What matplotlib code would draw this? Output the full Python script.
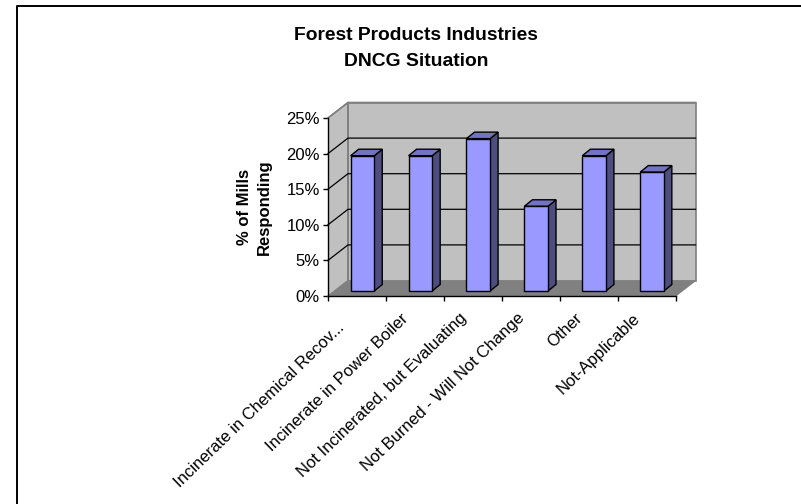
import matplotlib
matplotlib.use('Agg')
import matplotlib.pyplot as plt
from matplotlib.patches import Polygon

# values
categories = ['Incinerate in Chemical Recov...', 'Incinerate in Power Boiler',
              'Not Incinerated, but Evaluating', 'Not Burned - Will Not Change',
              'Other', 'Not-Applicable']
percents = [19.0, 19.0, 21.4, 11.9, 19.0, 16.7]
y_ticks = [0, 5, 10, 15, 20, 25]

plt.rcParams['font.family'] = ['Liberation Sans', 'DejaVu Sans']

W, H = 801, 504
fig = plt.figure(figsize=(W / 100, H / 100), dpi=100)
fig.patch.set_facecolor('white')

# axes = front plane of the 3d box
left, right, bottom, top = 328, 675.5, 296, 118
ax = fig.add_axes([left / W, 1 - bottom / H, (right - left) / W, (bottom - top) / H])
ax.set_xlim(0, len(categories))
ax.set_ylim(0, 25)
ax.patch.set_visible(False)

px_x = len(categories) / (right - left)
px_y = 25 / (bottom - top)
depth_x = 20 * px_x
depth_y = 15.5 * px_y


def poly(pts, **kw):
    ax.add_patch(Polygon(pts, closed=True, clip_on=False, **kw))


n = len(categories)
wall = '#C0C0C0'
# side wall, back wall, floor
poly([(0, 0), (depth_x, depth_y), (depth_x, 25 + depth_y), (0, 25)], fc=wall, ec='none', zorder=1)
poly([(depth_x, depth_y), (n + depth_x, depth_y), (n + depth_x, 25 + depth_y), (depth_x, 25 + depth_y)],
     fc=wall, ec='#808080', lw=1.2, zorder=1)
poly([(0, 0), (n, 0), (n + depth_x, depth_y), (depth_x, depth_y)], fc='#808080', ec='none', zorder=1)
ax.plot([depth_x, depth_x], [depth_y, 25 + depth_y], color='#808080', lw=1.2, zorder=1.5, clip_on=False)
ax.plot([0, depth_x, n + depth_x], [25, 25 + depth_y, 25 + depth_y], color='#808080', lw=1.2, zorder=1.5, clip_on=False)

# grid on the walls
for t in y_ticks[1:-1]:
    ax.plot([0, depth_x, n + depth_x], [t, t + depth_y, t + depth_y], color='black', lw=0.9, zorder=2,
            clip_on=False, solid_joinstyle='miter')
ax.plot([n, n + depth_x], [0, depth_y], color='#808080', lw=1.0, zorder=2, clip_on=False)
ax.plot([0, depth_x], [25, 25 + depth_y], color='#808080', lw=1.0, zorder=2, clip_on=False)
ax.plot([0, depth_x], [0, depth_y], color='#808080', lw=1.0, zorder=2, clip_on=False)

# bars
bar_w = 23.6 * px_x
off_x = 5.5 * px_x
off_y = 5 * px_y
bar_dx = 8 * px_x
bar_dy = 6.5 * px_y
for i, v in enumerate(percents):
    x0 = i + 0.5 + off_x - bar_w / 2
    x1 = x0 + bar_w
    y0 = off_y
    y1 = off_y + v
    poly([(x1, y0), (x1 + bar_dx, y0 + bar_dy), (x1 + bar_dx, y1 + bar_dy), (x1, y1)],
         fc='#4D4D80', ec='black', lw=1.0, zorder=3, joinstyle='miter')
    poly([(x0, y1), (x1, y1), (x1 + bar_dx, y1 + bar_dy), (x0 + bar_dx, y1 + bar_dy)],
         fc='#7373BF', ec='black', lw=1.0, zorder=3, joinstyle='miter')
ax.bar([i + 0.5 + off_x for i in range(n)], percents, width=bar_w, bottom=off_y,
       color='#9999FF', edgecolor='black', linewidth=1.0, zorder=4, clip_on=False)

for s in ['top', 'right']:
    ax.spines[s].set_visible(False)
for s in ['left', 'bottom']:
    ax.spines[s].set_linewidth(1.0)
    ax.spines[s].set_zorder(5)

ax.set_yticks(y_ticks)
ax.set_yticklabels([f'{t}%' for t in y_ticks], fontsize=12)
ax.set_xticks(range(n + 1))
ax.set_xticklabels([''] * (n + 1))
ax.tick_params(axis='y', length=3.5, width=1.0, pad=2.5)
ax.tick_params(axis='x', length=3.5, width=1.0, direction='out')

# rotated category labels, right end under the tick
for i, c in enumerate(categories):
    # the truncated first label sits a bit lower in the original
    offset = (-14.3, -17) if i == 0 else (-10, -10.5)
    ax.annotate(c, xy=(i + 0.5, 0), xytext=offset, xycoords='data', textcoords='offset points',
                rotation=44, rotation_mode='anchor', ha='right', va='top', fontsize=12,
                color='black', annotation_clip=False)

fig.text(416 / W, 1 - 36 / H, 'Forest Products Industries', ha='center', va='center', fontsize=13.9, fontweight='bold')
fig.text(416 / W, 1 - 62 / H, 'DNCG Situation', ha='center', va='center', fontsize=13.9, fontweight='bold')
fig.text(244 / W, 1 - 206.5 / H, '% of Mills', rotation=90, ha='center', va='center', fontsize=12, fontweight='bold')
fig.text(264 / W, 1 - 207.5 / H, 'Responding', rotation=90, ha='center', va='center', fontsize=12, fontweight='bold')

# chart area frame
fig.add_artist(plt.Line2D([16.5 / W, 16.5 / W, 1], [0, 1 - 5.5 / H, 1 - 5.5 / H], color='black', lw=1.4))

fig.savefig('out.png', dpi=100)
